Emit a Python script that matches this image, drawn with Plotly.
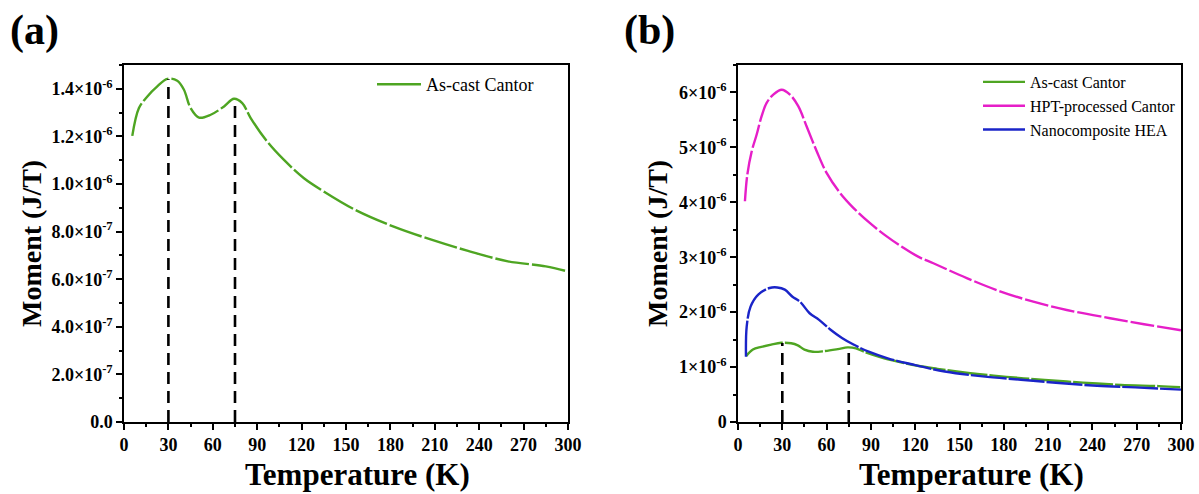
import plotly.graph_objects as go

# Temperature (K) and magnetic moment (J/T) for each sample
temp_ascast = [5.6, 10.1, 15.8, 22.5, 29.3, 36, 40.5, 45, 50.7, 58.6, 67.6, 74.3, 79.9, 85.6,
               96.8, 108.1, 121.6, 135.1, 156, 181.8, 207.7, 233.5, 259.4, 285, 299.5]
moment_ascast = [1.202e-6, 1.319e-6, 1.368e-6, 1.41e-6, 1.442e-6, 1.434e-6, 1.396e-6, 1.319e-6,
                 1.279e-6, 1.291e-6, 1.326e-6, 1.358e-6, 1.34e-6, 1.277e-6, 1.178e-6, 1.101e-6,
                 1.024e-6, 0.968e-6, 0.892e-6, 0.822e-6, 0.766e-6, 0.717e-6, 0.675e-6,
                 0.654e-6, 0.633e-6]

temp_hpt = [4.7, 6.3, 9.3, 12.6, 16, 19.4, 23.9, 29.6, 35.2, 40.8, 46.5, 53.3, 60.1, 69.1, 78.1,
            89.4, 100.7, 111, 122, 132.3, 154.9, 177.4, 200, 222.6, 252, 275, 300]
moment_hpt = [4.02e-6, 4.5e-6, 4.93e-6, 5.23e-6, 5.57e-6, 5.81e-6, 5.96e-6, 6.05e-6, 5.96e-6,
              5.75e-6, 5.38e-6, 4.93e-6, 4.53e-6, 4.17e-6, 3.90e-6, 3.62e-6, 3.38e-6, 3.19e-6,
              3.01e-6, 2.89e-6, 2.62e-6, 2.38e-6, 2.19e-6, 2.04e-6, 1.89e-6, 1.78e-6, 1.67e-6]

temp_nano = [5.4, 5.9, 8.5, 13.7, 21.4, 26.6, 31.7, 36.9, 42, 48.5, 54.9, 62.7, 70.4, 78.2,
             88.5, 101.4, 119.4, 140, 165.8, 191.6, 217.4, 243.2, 269, 300]
moment_nano = [1.19e-6, 1.74e-6, 2.10e-6, 2.32e-6, 2.44e-6, 2.45e-6, 2.41e-6, 2.28e-6, 2.19e-6,
               1.98e-6, 1.86e-6, 1.68e-6, 1.53e-6, 1.41e-6, 1.28e-6, 1.16e-6, 1.04e-6, 0.92e-6,
               0.83e-6, 0.77e-6, 0.71e-6, 0.66e-6, 0.63e-6, 0.59e-6]

# Peak positions of the as-cast sample, marked by dashed drop lines
peak_temps = [30, 75]
peak_moments = [1.44e-6, 1.33e-6]

x_ticks = [0, 30, 60, 90, 120, 150, 180, 210, 240, 270, 300]
ya_ticks = [0, 2e-7, 4e-7, 6e-7, 8e-7, 1.0e-6, 1.2e-6, 1.4e-6]
ya_labels = ["0.0", "2.0×10<sup>-7</sup>", "4.0×10<sup>-7</sup>", "6.0×10<sup>-7</sup>",
             "8.0×10<sup>-7</sup>", "1.0×10<sup>-6</sup>", "1.2×10<sup>-6</sup>", "1.4×10<sup>-6</sup>"]
yb_ticks = [0, 1e-6, 2e-6, 3e-6, 4e-6, 5e-6, 6e-6]
yb_labels = ["0", "1×10<sup>-6</sup>", "2×10<sup>-6</sup>", "3×10<sup>-6</sup>",
             "4×10<sup>-6</sup>", "5×10<sup>-6</sup>", "6×10<sup>-6</sup>"]

GREEN = "#4ea522"
MAGENTA = "#e61ec8"
BLUE = "#1a24c8"
FONT = "Liberation Serif"
W, H = 1199, 494

fig = go.Figure()


def curve(x, y, color, dash, xa, ya):
    # measured curve; the legend keys are drawn by separate solid entries
    return go.Scatter(x=x, y=y, mode="lines", showlegend=False,
                      line=dict(color=color, width=2.4, shape="spline", dash=dash),
                      xaxis=xa, yaxis=ya)


def legend_key(name, color, legend, group, xa, ya):
    return go.Scatter(x=[None], y=[None], mode="lines", name=name,
                      line=dict(color=color, width=2.4), legend=legend, legendgroup=group,
                      xaxis=xa, yaxis=ya)


def drop_lines(xa, ya):
    return [go.Scatter(x=[t, t], y=[0, m], mode="lines", showlegend=False,
                       line=dict(color="black", width=2.6, dash="12px,7px"),
                       xaxis=xa, yaxis=ya)
            for t, m in zip(peak_temps, peak_moments)]


# Panel (a)
fig.add_trace(curve(temp_ascast, moment_ascast, GREEN, "34px,3px", "x", "y"))
fig.add_traces(drop_lines("x", "y"))
fig.add_trace(legend_key("As-cast Cantor", GREEN, "legend", "a1", "x", "y"))

# Panel (b)
fig.add_trace(curve(temp_ascast, moment_ascast, GREEN, "40px,2px", "x2", "y2"))
fig.add_trace(curve(temp_hpt, moment_hpt, MAGENTA, "24px,3px", "x2", "y2"))
fig.add_trace(curve(temp_nano, moment_nano, BLUE, "36px,2px", "x2", "y2"))
fig.add_traces(drop_lines("x2", "y2"))
fig.add_trace(legend_key("As-cast Cantor", GREEN, "legend2", "b1", "x2", "y2"))
fig.add_trace(legend_key("HPT-processed Cantor", MAGENTA, "legend2", "b2", "x2", "y2"))
fig.add_trace(legend_key("Nanocomposite HEA", BLUE, "legend2", "b3", "x2", "y2"))

tickfont = dict(family=FONT, size=18, color="black", weight="bold")


def xaxis_style(domain, anchor):
    return dict(domain=domain, anchor=anchor, range=[0, 300], tickvals=x_ticks,
                ticks="outside", ticklen=6, tickwidth=1.5, tickcolor="black",
                minor=dict(dtick=15, ticks="outside", ticklen=3.5, tickwidth=1.5, tickcolor="black"),
                showline=True, linecolor="black", linewidth=1.5, mirror=True,
                showgrid=False, zeroline=False, tickfont=tickfont, automargin=False)


def yaxis_style(domain, anchor, rng, vals, labels, minor_dtick):
    return dict(domain=domain, anchor=anchor, range=rng, tickvals=vals, ticktext=labels,
                ticks="outside", ticklen=6, tickwidth=1.5, tickcolor="black",
                minor=dict(dtick=minor_dtick, ticks="outside", ticklen=3.5, tickwidth=1.5,
                           tickcolor="black"),
                showline=True, linecolor="black", linewidth=1.5, mirror=True,
                showgrid=False, zeroline=False, tickfont=tickfont, automargin=False)


ydom = [1 - 422 / H, 1 - 65 / H]


def text_note(text, x, y, size, angle=0):
    return dict(text=text, x=x / W, y=1 - y / H, xref="paper", yref="paper",
                xanchor="center", yanchor="middle", showarrow=False, textangle=angle,
                font=dict(family=FONT, size=size, color="black", weight="bold"))


fig.update_layout(
    width=W, height=H,
    margin=dict(l=0, r=0, t=0, b=0),
    paper_bgcolor="white", plot_bgcolor="white",
    xaxis=xaxis_style([124 / W, 568 / W], "y"),
    yaxis=yaxis_style(ydom, "x", [0, 1.5e-6], ya_ticks, ya_labels, 1e-7),
    xaxis2=xaxis_style([738 / W, 1181 / W], "y2"),
    yaxis2=yaxis_style(ydom, "x2", [0, 6.5e-6], yb_ticks, yb_labels, 5e-7),
    legend=dict(x=372 / W, y=1 - 66 / H, xanchor="left", yanchor="top", itemwidth=44,
                bgcolor="rgba(0,0,0,0)", font=dict(family=FONT, size=18, color="black")),
    legend2=dict(x=978 / W, y=1 - 65 / H, xanchor="left", yanchor="top", itemwidth=42,
                 bgcolor="rgba(0,0,0,0)", tracegroupgap=0, traceorder="grouped",
                 font=dict(family=FONT, size=16, color="black")),
    annotations=[
        text_note("(a)", 34, 30, 42),
        text_note("(b)", 650, 30, 42),
        text_note("Temperature (K)", 358, 474, 31),
        text_note("Temperature (K)", 971, 474, 31),
        text_note("Moment (J/T)", 31, 244, 28, -90),
        text_note("Moment (J/T)", 657, 244, 28, -90),
    ],
)

fig.write_html("out.html")
